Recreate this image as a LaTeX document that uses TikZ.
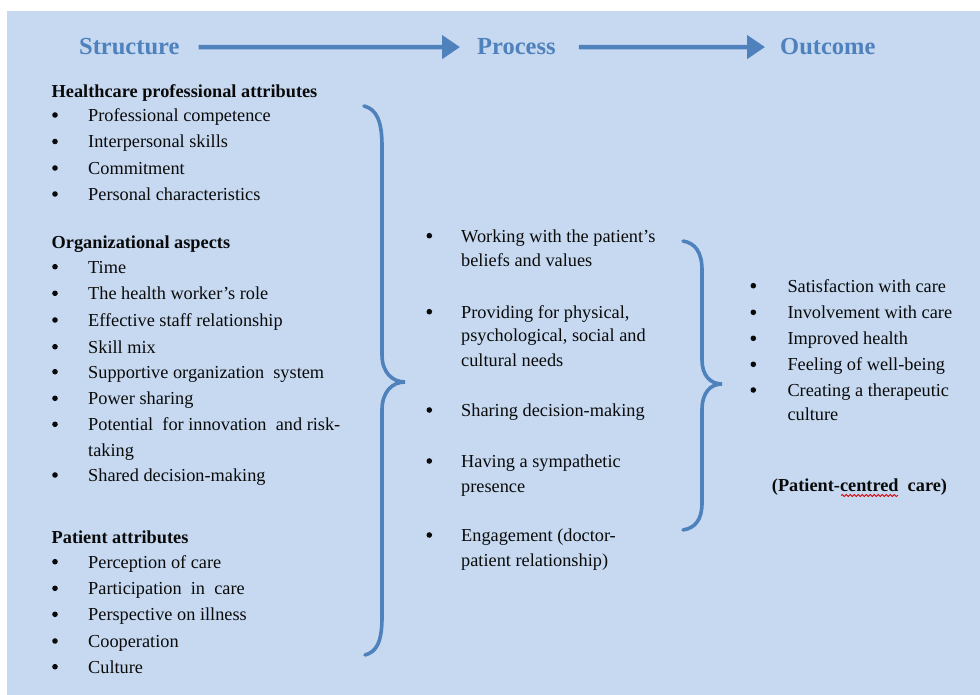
\documentclass[tikz,border=0pt]{standalone}
\usepackage{fontspec}
\setmainfont{Liberation Serif}
\usetikzlibrary{arrows.meta,decorations.pathmorphing}
\definecolor{bgblue}{HTML}{C6D9F1}
\definecolor{accent}{HTML}{4F81BD}
\definecolor{ink}{HTML}{0A0A0A}
\begin{document}
\begin{tikzpicture}[x=1pt,y=-1pt,
  txt/.style={anchor=base west,inner sep=0,text=ink,font=\fontsize{18.3}{22}\selectfont},
  head/.style={txt,font=\fontsize{18.3}{22}\selectfont\bfseries},
  bul/.style={circle,fill=ink,inner sep=0,minimum size=5.6pt,yshift=6.5pt},
  ttl/.style={anchor=base west,inner sep=0,text=accent,font=\fontsize{24.5}{28}\selectfont\bfseries},
  arr/.style={draw=accent,line width=4.5pt,-{Triangle[length=18pt,width=23pt]}},
  brace/.style={draw=accent,line width=3.6pt,line cap=round}]
\useasboundingbox (0,0) rectangle (980,695);
\fill[white] (0,0) rectangle (980,695);
\fill[bgblue] (7,11) rectangle (980,695);

% titles
\node[ttl] (st) at (79,55) {Structure};
\node[ttl] (pr) at (477,55) {Process};
\node[ttl] (oc) at (780,55) {Outcome};
\draw[arr] ([xshift=19pt]st.east) -- ([xshift=-17pt]pr.west);
\draw[arr] ([xshift=23pt]pr.east) -- ([xshift=-15pt]oc.west);

\begin{scope}[shift={(0,1.5)}]
% left column
\node[head] (h1) at (51.5,95.7) {Healthcare professional attributes};
\node[bul] (lb1) at (55,120) {};   \node[txt] (l1) at (88,120) {Professional competence};
\node[bul] (lb2) at (55,146.5) {}; \node[txt] (l2) at (88,146.5) {Interpersonal skills};
\node[bul] (lb3) at (55,173) {};   \node[txt] (l3) at (88,173) {Commitment};
\node[bul] (lb4) at (55,199) {};   \node[txt] (l4) at (88,199) {Personal characteristics};

\node[head] (h2) at (51.5,247.3) {Organizational aspects};
\node[bul] (lb5) at (55,271.7) {};  \node[txt] (l5) at (88,271.7) {Time};
\node[bul] (lb6) at (55,298.3) {};  \node[txt] (l6) at (88,298.3) {The health worker’s role};
\node[bul] (lb7) at (55,325) {};    \node[txt] (l7) at (88,325) {Effective staff relationship};
\node[bul] (lb8) at (55,351.7) {};  \node[txt] (l8) at (88,351.7) {Skill mix};
\node[bul] (lb9) at (55,376.7) {};  \node[txt] (l9) at (88,376.7) {Supportive organization\ \ system};
\node[bul] (lb10) at (55,403.3) {}; \node[txt] (l10) at (88,403.3) {Power sharing};
\node[bul] (lb11) at (55,429.3) {}; \node[txt] (l11) at (88,429.3) {Potential\ \ for innovation\ \ and risk-};
\node[txt] (l11b) at (88,455) {taking};
\node[bul] (lb12) at (55,480) {};   \node[txt] (l12) at (88,480) {Shared decision-making};

\node[head] (h3) at (51.5,541.7) {Patient attributes};
\node[bul] (lb13) at (55,566.7) {}; \node[txt] (l13) at (88,566.7) {Perception of care};
\node[bul] (lb14) at (55,593.3) {}; \node[txt] (l14) at (88,593.3) {Participation\ \ in\ \ care};
\node[bul] (lb15) at (55,619.3) {}; \node[txt] (l15) at (88,619.3) {Perspective on illness};
\node[bul] (lb16) at (55,646) {};   \node[txt] (l16) at (88,646) {Cooperation};
\node[bul] (lb17) at (55,671.7) {}; \node[txt] (l17) at (88,671.7) {Culture};

% middle column
\node[bul] (mb1) at (429.3,240.7) {}; \node[txt] (m1) at (461,240.7) {Working with the patient’s};
\node[txt] (m1b) at (461,265) {beliefs and values};
\node[bul] (mb2) at (429.3,316.7) {}; \node[txt] (m2) at (461,316.7) {Providing for physical,};
\node[txt] (m2b) at (461,340) {psychological, social and};
\node[txt] (m2c) at (461,365) {cultural needs};
\node[bul] (mb3) at (429.3,415) {};   \node[txt] (m3) at (461,415) {Sharing decision-making};
\node[bul] (mb4) at (429.3,466) {};   \node[txt] (m4) at (461,466) {Having a sympathetic};
\node[txt] (m4b) at (461,490.7) {presence};
\node[bul] (mb5) at (429.3,540) {};   \node[txt] (m5) at (461,540) {Engagement (doctor-};
\node[txt] (m5b) at (461,565) {patient relationship)};

% right column
\node[bul] (rb1) at (753.3,290.7) {}; \node[txt] (r1) at (787.3,290.7) {Satisfaction\ with care};
\node[bul] (rb2) at (753.3,317.3) {}; \node[txt] (r2) at (787.3,317.3) {Involvement with care};
\node[bul] (rb3) at (753.3,343.3) {}; \node[txt] (r3) at (787.3,343.3) {Improved health};
\node[bul] (rb4) at (753.3,369.3) {}; \node[txt] (r4) at (787.3,369.3) {Feeling of well-being};
\node[bul] (rb5) at (753.3,395) {};   \node[txt] (r5) at (787.3,395) {Creating a therapeutic};
\node[txt] (r5b) at (787.3,419.3) {culture};
\node[head] (pc) at (771.7,490) {(Patient-centred\ \ care)};
\draw[red!85!black,line width=0.8pt,decorate,decoration={snake,amplitude=1.1pt,segment length=4pt}] (841,494) -- (898,494);
\end{scope}

% braces
\draw[brace] (364,106) .. controls (376,109) and (382,120) .. (382,146)
  -- (382,355) .. controls (382,372) and (392,382) .. (405,382)
  .. controls (392,382) and (382,392) .. (382,410)
  -- (382,617) .. controls (382,643) and (376,652) .. (365,655);
\draw[brace] (683,241) .. controls (695,243) and (702,252) .. (702,270)
  -- (702,360) .. controls (702,375) and (710,384) .. (722,384)
  .. controls (710,384) and (702,393) .. (702,410)
  -- (702,503) .. controls (702,520) and (695,528) .. (683,530);
\end{tikzpicture}
\end{document}
